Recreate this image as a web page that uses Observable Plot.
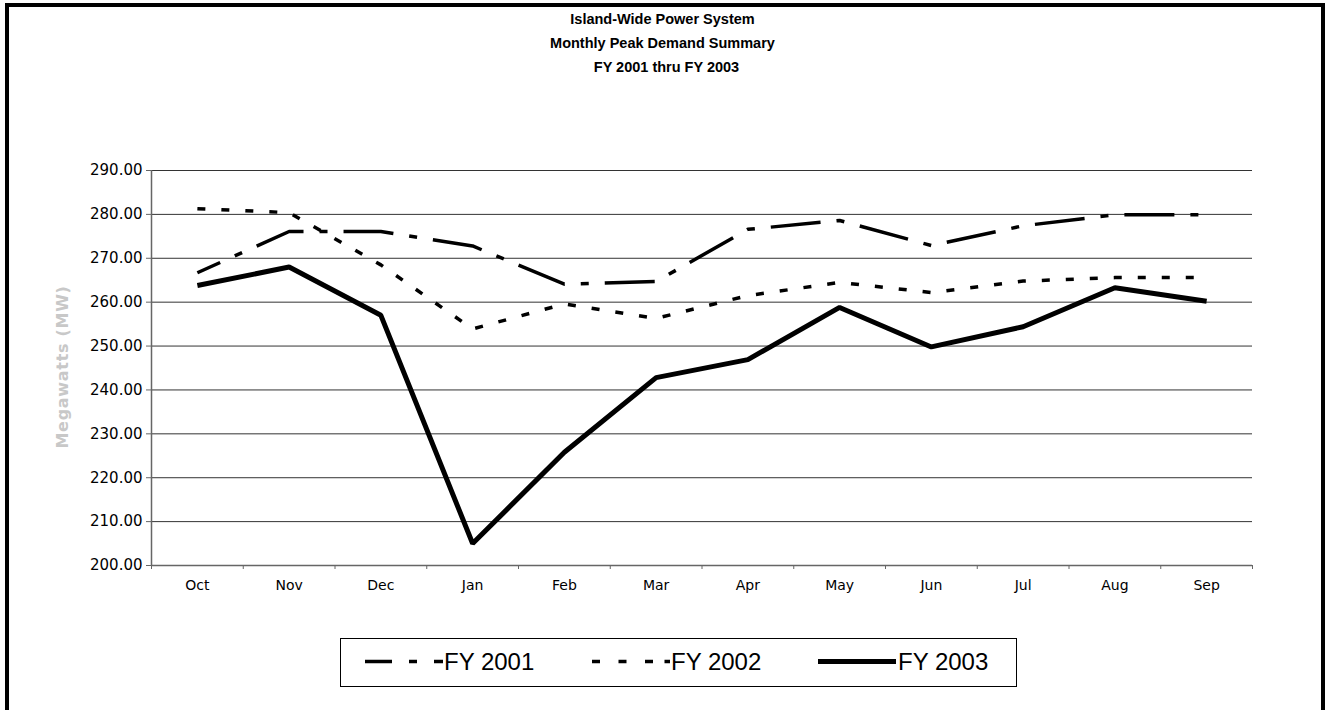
<!DOCTYPE html>
<html>
<head>
<meta charset="utf-8">
<script src="https://cdn.jsdelivr.net/npm/d3@7"></script>
<script src="https://cdn.jsdelivr.net/npm/@observablehq/plot@0.6"></script>
<style>
  html, body { margin: 0; padding: 0; background: #fff; width: 1325px; height: 710px; overflow: hidden; }
  #frame { position: absolute; left: 5px; top: 3px; width: 1320px; height: 740px; border: 4.5px solid #000; box-sizing: border-box; }
  #title { position: absolute; left: 0; top: 7px; width: 1325px; text-align: center; font-family: "Liberation Sans", Arial, sans-serif; font-weight: bold; font-size: 14.5px; line-height: 24px; color: #000; }
  #chart { position: absolute; left: 0; top: 150px; }
  #ylabel { position: absolute; left: 62px; top: 367px; transform: translate(-50%, -50%) rotate(-90deg); font-family: "DejaVu Sans", sans-serif; font-weight: bold; font-size: 16px; letter-spacing: 0.7px; color: #c8c8c8; white-space: nowrap; }
  #legend { position: absolute; left: 340px; top: 638px; }
</style>
</head>
<body>
<div id="frame"></div>
<div id="title">Island-Wide Power System<br>Monthly Peak Demand Summary<br><span style="padding-left:8px">FY 2001 thru FY 2003</span></div>
<div id="chart"></div>
<div id="ylabel">Megawatts (MW)</div>
<div id="legend"></div>
<script>
const months = ["Oct", "Nov", "Dec", "Jan", "Feb", "Mar", "Apr", "May", "Jun", "Jul", "Aug", "Sep"];
const fy2001 = [266.7, 276.1, 276.1, 272.8, 264.1, 264.7, 276.6, 278.6, 272.9, 277.4, 279.9, 279.9];
const fy2002 = [281.3, 280.4, 268.5, 253.9, 259.6, 256.3, 261.5, 264.5, 262.2, 264.8, 265.6, 265.6];
const fy2003 = [263.8, 268.0, 257.0, 205.0, 225.8, 242.8, 246.9, 258.8, 249.8, 254.4, 263.3, 260.2];
const yTicks = [200, 210, 220, 230, 240, 250, 260, 270, 280, 290];
const seriesNames = ["FY 2001", "FY 2002", "FY 2003"];

const styles = [
  {stroke: "#000", strokeWidth: 3.5, strokeDasharray: "50,16,8,16", strokeDashoffset: 25},
  {stroke: "#000", strokeWidth: 3.5, strokeDasharray: "8,16"},
  {stroke: "#000", strokeWidth: 5}
];
const series = [fy2001, fy2002, fy2003];

const xCenters = months.map((_, i) => i + 0.5);
const xBounds = d3.range(months.length + 1);

const plot = Plot.plot({
  width: 1325,
  height: 460,
  marginLeft: 151,
  marginRight: 73,
  marginTop: 20,
  marginBottom: 45,
  x: {type: "linear", domain: [0, months.length]},
  y: {type: "linear", domain: [200, 290]},
  style: {fontFamily: "'DejaVu Sans', sans-serif", fontSize: "14px", background: "transparent", color: "#000"},
  marks: [
    Plot.gridY(yTicks, {stroke: "#333", strokeOpacity: 1, strokeWidth: 1}),
    Plot.axisY(yTicks, {tickFormat: d => d.toFixed(2), tickSize: 5, tickPadding: 4, stroke: "#666", fill: "#000", fontSize: 15, label: null}),
    Plot.axisX(xBounds, {tickFormat: () => "", tickSize: 4, stroke: "#666", label: null}),
    Plot.axisX(xCenters, {tickFormat: d => months[Math.floor(d)], tickSize: 0, tickPadding: 15, fill: "#000", fontSize: 14, label: null}),
    Plot.ruleX([0], {y1: 200, y2: 290, stroke: "#666", strokeWidth: 1.5}),
    Plot.ruleY([200], {x1: 0, x2: months.length, stroke: "#666", strokeWidth: 1.5}),
    ...series.map((vals, k) => Plot.line(vals, {
      x: (d, i) => i + 0.5,
      y: d => d,
      ...styles[k],
      strokeLinecap: "butt",
      strokeLinejoin: "miter",
      curve: "linear"
    }))
  ]
});
document.getElementById("chart").appendChild(plot);

// Legend
const lw = 677, lh = 49;
const svg = d3.create("svg").attr("width", lw).attr("height", lh);
svg.append("rect").attr("x", 0.5).attr("y", 0.5).attr("width", lw - 1).attr("height", lh - 1)
  .attr("fill", "#fff").attr("stroke", "#000").attr("stroke-width", 1);
const legendItems = [
  {x1: 25, x2: 103, tx: 104},
  {x1: 252, x2: 330, tx: 331},
  {x1: 478, x2: 556, tx: 558}
];
const legendDash = ["27,17,8,17,9", "8,18.5,8,18.5,8,11.5,6", null];
const legendW = [3.5, 3.5, 5];
legendItems.forEach((it, k) => {
  const ln = svg.append("line").attr("x1", it.x1).attr("x2", it.x2).attr("y1", 23.5).attr("y2", 23.5)
    .attr("stroke", "#000").attr("stroke-width", legendW[k]);
  if (legendDash[k]) ln.attr("stroke-dasharray", legendDash[k]);
  svg.append("text").attr("x", it.tx).attr("y", 24).attr("dy", "0.35em")
    .attr("font-family", "'Liberation Sans', Arial, sans-serif").attr("font-size", 24)
    .attr("fill", "#000").text(seriesNames[k]);
});
document.getElementById("legend").appendChild(svg.node());
</script>
</body>
</html>
